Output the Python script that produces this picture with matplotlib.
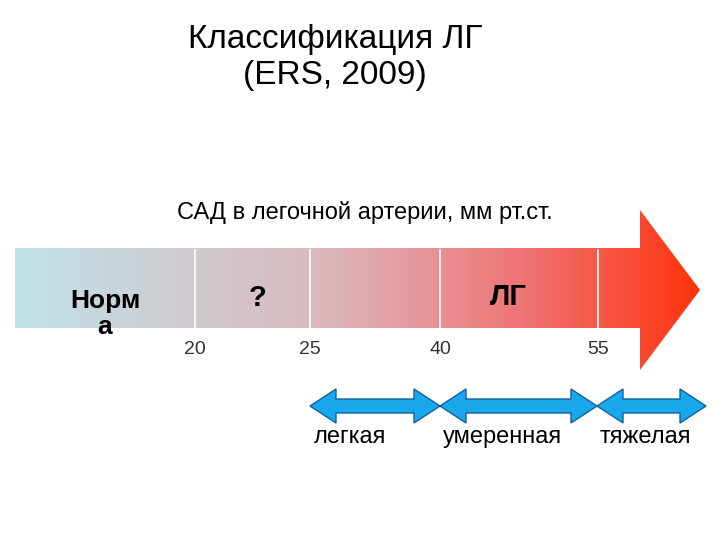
import numpy as np
import matplotlib
matplotlib.use('Agg')
import matplotlib.pyplot as plt
from matplotlib.colors import LinearSegmentedColormap
from matplotlib.patches import Polygon

# данные
porogi = ['20', '25', '40', '55']
stepeni = ['легкая', 'умеренная', 'тяжелая']
metki_zon = ['Норм\nа', '?', 'ЛГ']

# разметка (пиксели слайда)
porog_x = [195, 310, 440, 598]
stepen_x = [(310, 440), (440, 597), (597, 706)]
stepen_text_x = [350, 503, 645]
zona_x = [105, 258, 508]

plt.rcParams['font.family'] = ['Liberation Sans', 'DejaVu Sans']

fig = plt.figure(figsize=(7.2, 5.4), dpi=100)
ax = fig.add_axes([0, 0, 1, 1])
ax.set_xlim(0, 720)
ax.set_ylim(540, 0)
ax.axis('off')

ax.text(335, 24, 'Классификация ЛГ\n(ERS, 2009)', ha='center', va='top',
        fontsize=24, linespacing=1.2)
ax.text(365, 212, 'САД в легочной артерии, мм рт.ст.', ha='center', va='center',
        fontsize=17)

# большая стрелка с градиентом
cmap = LinearSegmentedColormap.from_list('g', [
    (0.0, (0.75, 0.89, 0.91)),
    (0.45, (0.86, 0.72, 0.74)),
    (0.75, (0.94, 0.45, 0.45)),
    (1.0, (1.0, 0.2, 0.05))])
grad = np.linspace(0, 1, 400).reshape(1, -1)
im = ax.imshow(grad, cmap=cmap, extent=[15, 700, 370, 210], aspect='auto', zorder=1)
arrow = Polygon([[15, 248], [640, 248], [640, 210], [700, 290], [640, 370],
                 [640, 328], [15, 328]], closed=True, facecolor='none',
                edgecolor='none')
ax.add_patch(arrow)
im.set_clip_path(arrow)

for x, t in zip(porog_x, porogi):
    ax.plot([x, x], [250, 328], color='white', lw=1.2, zorder=2)
    ax.text(x, 349, t, ha='center', va='center', fontsize=14, color='#333333')

ax.text(zona_x[0], 314, metki_zon[0], ha='center', va='center', fontsize=19,
        fontweight='bold', linespacing=1.15)
ax.text(zona_x[1], 298, metki_zon[1], ha='center', va='center', fontsize=21,
        fontweight='bold')
ax.text(zona_x[2], 297, metki_zon[2], ha='center', va='center', fontsize=21,
        fontweight='bold')

# двойные стрелки степеней
y0, sh, hh, hl = 406, 7, 17, 26
for (x0, x1), tx, t in zip(stepen_x, stepen_text_x, stepeni):
    pts = [[x0, y0], [x0 + hl, y0 - hh], [x0 + hl, y0 - sh], [x1 - hl, y0 - sh],
           [x1 - hl, y0 - hh], [x1, y0], [x1 - hl, y0 + hh], [x1 - hl, y0 + sh],
           [x0 + hl, y0 + sh], [x0 + hl, y0 + hh]]
    ax.add_patch(Polygon(pts, closed=True, facecolor='#19a8ec',
                         edgecolor='#1060a0', lw=1, zorder=3))
    ax.text(tx, 437, t, ha='center', va='center', fontsize=17)

fig.savefig('out.png', dpi=100)
